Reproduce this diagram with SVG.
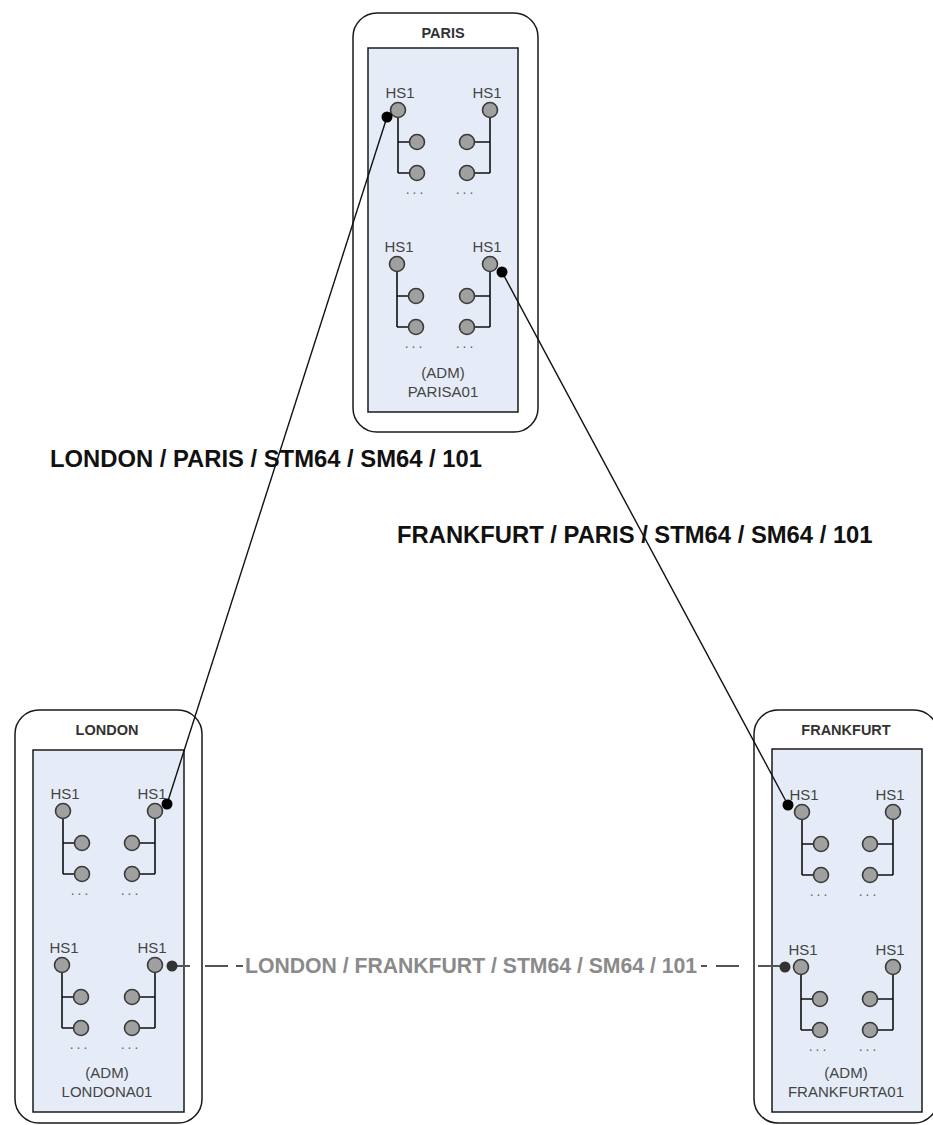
<svg xmlns="http://www.w3.org/2000/svg" xmlns:xlink="http://www.w3.org/1999/xlink" width="933" height="1125" viewBox="0 0 933 1125">
<style>
.outer{fill:#fff;stroke:#1a1a1a;stroke-width:1.5}
.inner{fill:#e6ecf7;stroke:#1a1a1a;stroke-width:1.5}
.title{font-family:"Liberation Sans",Arial,sans-serif;font-weight:bold;font-size:14.5px;fill:#333;text-anchor:middle}
.hs{font-family:"Liberation Sans",Arial,sans-serif;font-size:15px;fill:#444;text-anchor:middle}
.adm{font-family:"Liberation Sans",Arial,sans-serif;font-size:15px;fill:#444;text-anchor:middle}
.dots{font-family:"Liberation Sans",Arial,sans-serif;font-size:14px;fill:#666;text-anchor:middle;letter-spacing:3px}
.port{fill:#a0a0a0;stroke:#3a3a3a;stroke-width:1.6}
.tree{fill:none;stroke:#111;stroke-width:1.6}
.lbl{font-family:"Liberation Sans",Arial,sans-serif;font-weight:bold;font-size:23.8px;fill:#111}
.dlbl{font-family:"Liberation Sans",Arial,sans-serif;font-weight:bold;font-size:21.2px;fill:#8a8a8a}
.conn{fill:none;stroke:#111;stroke-width:1.4}
.dconn{fill:none;stroke:#555;stroke-width:2}
</style>
<defs>
<g id="treeL">
<path class="tree" d="M0,7 V63 M0,32 H12 M0,63 H12"/>
<circle class="port" cx="0" cy="0" r="7.5"/>
<circle class="port" cx="19" cy="32" r="7.5"/>
<circle class="port" cx="19" cy="63" r="7.5"/>
<text class="hs" x="2" y="-12">HS1</text>
<text class="dots" x="18" y="84">...</text>
</g>
<g id="treeR">
<path class="tree" d="M0,7 V63 M0,32 H-16 M0,63 H-16"/>
<circle class="port" cx="0" cy="0" r="7.5"/>
<circle class="port" cx="-23" cy="32" r="7.5"/>
<circle class="port" cx="-23" cy="63" r="7.5"/>
<text class="hs" x="-3" y="-12">HS1</text>
<text class="dots" x="-24" y="84">...</text>
</g>
</defs>

<g id="paris">
<rect class="outer" x="353" y="13" width="185" height="419" rx="24"/>
<rect class="inner" x="368" y="48" width="150" height="364"/>
<text class="title" x="443" y="38">PARIS</text>
<use xlink:href="#treeL" x="398" y="110"/>
<use xlink:href="#treeR" x="490" y="110"/>
<use xlink:href="#treeL" x="397" y="264"/>
<use xlink:href="#treeR" x="490" y="264"/>
<text class="adm" x="443" y="378">(ADM)</text>
<text class="adm" x="443" y="397">PARISA01</text>
</g>

<g id="london">
<rect class="outer" x="15" y="710" width="187" height="413" rx="24"/>
<rect class="inner" x="33" y="750" width="151" height="362"/>
<text class="title" x="107" y="735">LONDON</text>
<use xlink:href="#treeL" x="63" y="811"/>
<use xlink:href="#treeR" x="155" y="811"/>
<use xlink:href="#treeL" x="62" y="965"/>
<use xlink:href="#treeR" x="155" y="965"/>
<text class="adm" x="107" y="1078">(ADM)</text>
<text class="adm" x="107" y="1097">LONDONA01</text>
</g>

<g id="frankfurt">
<rect class="outer" x="754" y="710" width="184" height="413" rx="24"/>
<rect class="inner" x="772" y="749" width="150" height="363"/>
<text class="title" x="846" y="735">FRANKFURT</text>
<use xlink:href="#treeL" x="802" y="812"/>
<use xlink:href="#treeR" x="893" y="812"/>
<use xlink:href="#treeL" x="801" y="967"/>
<use xlink:href="#treeR" x="893" y="967"/>
<text class="adm" x="846" y="1078">(ADM)</text>
<text class="adm" x="846" y="1097">FRANKFURTA01</text>
</g>

<g id="connectors">
<line class="conn" x1="387" y1="117" x2="167" y2="804"/>
<circle cx="387" cy="117" r="5.5" fill="#000"/>
<circle cx="167" cy="804" r="5.5" fill="#000"/>
<line class="conn" x1="502" y1="272" x2="788" y2="805"/>
<circle cx="502" cy="272" r="5.5" fill="#000"/>
<circle cx="788" cy="805" r="5.5" fill="#000"/>
<path class="dconn" d="M172,966 H190 M205,966 H228 M236,966 H243 M701,966 H707 M716,966 H739 M758,966 H785"/>
<circle cx="172" cy="966" r="5.5" fill="#333"/>
<circle cx="785" cy="967" r="5.5" fill="#333"/>
<text class="lbl" x="50" y="467">LONDON / PARIS / STM64 / SM64 / 101</text>
<text class="lbl" x="397" y="543">FRANKFURT / PARIS / STM64 / SM64 / 101</text>
<text class="dlbl" x="245" y="973">LONDON / FRANKFURT / STM64 / SM64 / 101</text>
</g>
</svg>
